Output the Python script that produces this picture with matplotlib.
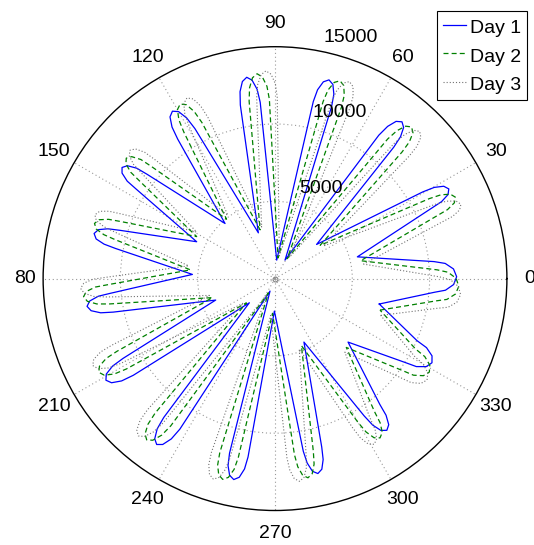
import numpy as np
import matplotlib
matplotlib.use('Agg')
import matplotlib.pyplot as plt

plt.rcParams['font.family'] = ['Liberation Sans', 'DejaVu Sans']

# values: angle in degrees, radius
# (one row per petal: inner point, then the rounded outer end)
day_names = ['Day 1', 'Day 2', 'Day 3']

theta_day1 = [
    -13.7, -4.9, -3.9, -1.9, 0.6, 3.1, 5.1, 6.1,
    14.8, 24.2, 24.8, 25.9, 27.3, 28.7, 29.8, 30.4,
    39.4, 47.9, 48.5, 49.6, 51.0, 52.4, 53.5, 54.1,
    61.6, 71.8, 72.3, 73.4, 74.8, 76.2, 77.3, 77.8,
    84.7, 94.8, 95.4, 96.6, 98.0, 99.4, 100.6, 101.3,
    110.0, 118.1, 118.8, 120.0, 121.5, 123.0, 124.2, 124.9,
    132.2, 140.8, 141.4, 142.6, 144.0, 145.4, 146.6, 147.2,
    154.8, 162.7, 163.4, 164.5, 166.0, 167.5, 168.6, 169.3,
    177.1, 185.1, 185.7, 186.9, 188.4, 189.9, 191.1, 191.7,
    199.9, 207.7, 208.3, 209.5, 211.0, 212.5, 213.7, 214.3,
    223.3, 231.3, 231.9, 233.1, 234.5, 235.9, 237.1, 237.7,
    248.2, 255.4, 255.9, 257.0, 258.4, 259.8, 260.9, 261.4,
    268.9, 279.3, 279.9, 281.0, 282.4, 283.8, 284.9, 285.5,
    294.5, 303.0, 303.7, 304.9, 306.4, 307.9, 309.1, 309.8,
    319.0, 327.2, 328.1, 329.8, 331.8, 333.8, 335.5, 336.4,
    346.3]
rho_day1 = [
    6940, 10350, 11050, 11562, 11750, 11562, 11050, 10350,
    5510, 11090, 11870, 12441, 12650, 12441, 11870, 11090,
    3480, 11450, 12250, 12836, 13050, 12836, 12250, 11450,
    1360, 11720, 12520, 13106, 13320, 13106, 12520, 11720,
    1200, 11450, 12300, 12922, 13150, 12922, 12300, 11450,
    3150, 11000, 11850, 12472, 12700, 12472, 11850, 11000,
    4810, 10670, 11450, 12021, 12230, 12021, 11450, 10670,
    5600, 10500, 11280, 11851, 12060, 11851, 11280, 10500,
    5350, 10690, 11490, 12076, 12290, 12076, 11490, 10690,
    4080, 11100, 11930, 12538, 12760, 12538, 11930, 11100,
    2280, 11520, 12350, 12958, 13180, 12958, 12350, 11520,
    870, 11670, 12470, 13056, 13270, 13056, 12470, 11670,
    2100, 11310, 12110, 12696, 12910, 12696, 12110, 11310,
    4510, 10590, 11390, 11976, 12190, 11976, 11390, 10590,
    6260, 10020, 10770, 11319, 11520, 11319, 10770, 10020,
    6940]

theta_day2 = [
    -16.7, -7.9, -6.9, -4.9, -2.4, 0.1, 2.1, 3.1,
    11.8, 21.2, 21.8, 22.9, 24.3, 25.7, 26.8, 27.4,
    36.4, 44.9, 45.5, 46.6, 48.0, 49.4, 50.5, 51.1,
    58.6, 68.8, 69.3, 70.4, 71.8, 73.2, 74.3, 74.8,
    81.7, 91.8, 92.4, 93.6, 95.0, 96.4, 97.6, 98.3,
    107.0, 115.1, 115.8, 117.0, 118.5, 120.0, 121.2, 121.9,
    129.2, 137.8, 138.4, 139.6, 141.0, 142.4, 143.6, 144.2,
    151.8, 159.7, 160.4, 161.5, 163.0, 164.5, 165.6, 166.3,
    174.1, 182.1, 182.7, 183.9, 185.4, 186.9, 188.1, 188.7,
    196.9, 204.7, 205.3, 206.5, 208.0, 209.5, 210.7, 211.3,
    220.3, 228.3, 228.9, 230.1, 231.5, 232.9, 234.1, 234.7,
    245.2, 252.4, 252.9, 254.0, 255.4, 256.8, 257.9, 258.4,
    265.9, 276.3, 276.9, 278.0, 279.4, 280.8, 281.9, 282.5,
    291.5, 300.0, 300.7, 301.9, 303.4, 304.9, 306.1, 306.8,
    316.0, 324.2, 325.1, 326.8, 328.8, 330.8, 332.5, 333.4,
    343.3]
rho_day2 = [
    7090, 10500, 11200, 11712, 11900, 11712, 11200, 10500,
    5660, 11240, 12020, 12591, 12800, 12591, 12020, 11240,
    3630, 11600, 12400, 12986, 13200, 12986, 12400, 11600,
    1510, 11870, 12670, 13256, 13470, 13256, 12670, 11870,
    1350, 11600, 12450, 13072, 13300, 13072, 12450, 11600,
    3300, 11150, 12000, 12622, 12850, 12622, 12000, 11150,
    4960, 10820, 11600, 12171, 12380, 12171, 11600, 10820,
    5750, 10650, 11430, 12001, 12210, 12001, 11430, 10650,
    5500, 10840, 11640, 12226, 12440, 12226, 11640, 10840,
    4230, 11250, 12080, 12688, 12910, 12688, 12080, 11250,
    2430, 11670, 12500, 13108, 13330, 13108, 12500, 11670,
    1020, 11820, 12620, 13206, 13420, 13206, 12620, 11820,
    2250, 11460, 12260, 12846, 13060, 12846, 12260, 11460,
    4660, 10740, 11540, 12126, 12340, 12126, 11540, 10740,
    6410, 10170, 10920, 11469, 11670, 11469, 10920, 10170,
    7090]

theta_day3 = [
    -19.2, -10.4, -9.4, -7.4, -4.9, -2.4, -0.4, 0.6,
    9.3, 18.7, 19.3, 20.4, 21.8, 23.2, 24.3, 24.9,
    33.9, 42.4, 43.0, 44.1, 45.5, 46.9, 48.0, 48.6,
    56.1, 66.3, 66.8, 67.9, 69.3, 70.7, 71.8, 72.3,
    79.2, 89.3, 89.9, 91.1, 92.5, 93.9, 95.1, 95.8,
    104.5, 112.6, 113.3, 114.5, 116.0, 117.5, 118.7, 119.4,
    126.7, 135.3, 135.9, 137.1, 138.5, 139.9, 141.1, 141.7,
    149.3, 157.2, 157.9, 159.0, 160.5, 162.0, 163.1, 163.8,
    171.6, 179.6, 180.2, 181.4, 182.9, 184.4, 185.6, 186.2,
    194.4, 202.2, 202.8, 204.0, 205.5, 207.0, 208.2, 208.8,
    217.8, 225.8, 226.4, 227.6, 229.0, 230.4, 231.6, 232.2,
    242.7, 249.9, 250.4, 251.5, 252.9, 254.3, 255.4, 255.9,
    263.4, 273.8, 274.4, 275.5, 276.9, 278.3, 279.4, 280.0,
    289.0, 297.5, 298.2, 299.4, 300.9, 302.4, 303.6, 304.3,
    313.5, 321.7, 322.6, 324.3, 326.3, 328.3, 330.0, 330.9,
    340.8]
rho_day3 = [
    7240, 10650, 11350, 11862, 12050, 11862, 11350, 10650,
    5810, 11390, 12170, 12741, 12950, 12741, 12170, 11390,
    3780, 11750, 12550, 13136, 13350, 13136, 12550, 11750,
    1660, 12020, 12820, 13406, 13620, 13406, 12820, 12020,
    1500, 11750, 12600, 13222, 13450, 13222, 12600, 11750,
    3450, 11300, 12150, 12772, 13000, 12772, 12150, 11300,
    5110, 10970, 11750, 12321, 12530, 12321, 11750, 10970,
    5900, 10800, 11580, 12151, 12360, 12151, 11580, 10800,
    5650, 10990, 11790, 12376, 12590, 12376, 11790, 10990,
    4380, 11400, 12230, 12838, 13060, 12838, 12230, 11400,
    2580, 11820, 12650, 13258, 13480, 13258, 12650, 11820,
    1170, 11970, 12770, 13356, 13570, 13356, 12770, 11970,
    2400, 11610, 12410, 12996, 13210, 12996, 12410, 11610,
    4810, 10890, 11690, 12276, 12490, 12276, 11690, 10890,
    6560, 10320, 11070, 11619, 11820, 11619, 11070, 10320,
    7240]

angle_ticks = list(range(0, 360, 30))
angle_labels = ['0', '30', '60', '90', '120', '150', '80', '210', '240', '270', '300', '330']
ring_values = [5000, 10000, 15000]
ring_labels = ['5000', '10000', '15000']

fig = plt.figure(figsize=(5.34, 5.45), dpi=100)
ax = fig.add_axes([0.0805, 0.0633, 0.869, 0.851], projection='polar')
ax.set_ylim(0, ring_values[-1])
ax.set_thetagrids(angle_ticks, labels=[''] * len(angle_ticks))
ax.set_rgrids(ring_values[:-1], labels=[''] * (len(ring_values) - 1))
ax.grid(True, color='0.6', linestyle=(0, (1, 2.5)), linewidth=0.8)
ax.tick_params(length=0, pad=0)
ax.spines['polar'].set_color('black')
ax.spines['polar'].set_linewidth(1.0)

ax.plot(np.radians(theta_day1), rho_day1, color='blue', lw=0.9,
        solid_joinstyle='round', label=day_names[0])
ax.plot(np.radians(theta_day2), rho_day2, color=(0, 0.5, 0), lw=0.9,
        linestyle=(0, (4, 2.5)), label=day_names[1])
ax.plot(np.radians(theta_day3), rho_day3, color='0.45', lw=0.8,
        linestyle=(0, (1, 1.8)), label=day_names[2])
ax.plot(0, 0, 'o', mfc='none', mec='0.5', ms=3.5, mew=0.8)

# angle labels around the circle
for a, lab in zip(angle_ticks, angle_labels):
    r = 16180 if lab == '80' else 16500
    ax.text(np.radians(a), r, lab, ha='center', va='center', fontsize=14,
            clip_on=False)

# radius labels
ring_label_pos = [(74.3, 5742), (77.0, 10700), (78.4, 15610)]
for (a, r), lab in zip(ring_label_pos, ring_labels):
    ax.text(np.radians(a), r, lab, ha='left', va='baseline', fontsize=14,
            clip_on=False)

leg = ax.legend(loc='upper right', bbox_to_anchor=(526.7 / 534, 1 - 10.5 / 545),
                bbox_transform=fig.transFigure, borderaxespad=0, fontsize=14,
                handlelength=1.2, handletextpad=0.2, handleheight=1.2,
                labelspacing=0.42, borderpad=0.3, fancybox=False,
                framealpha=1, edgecolor='black')
leg.get_frame().set_linewidth(0.8)

fig.savefig('out.png', dpi=100)
